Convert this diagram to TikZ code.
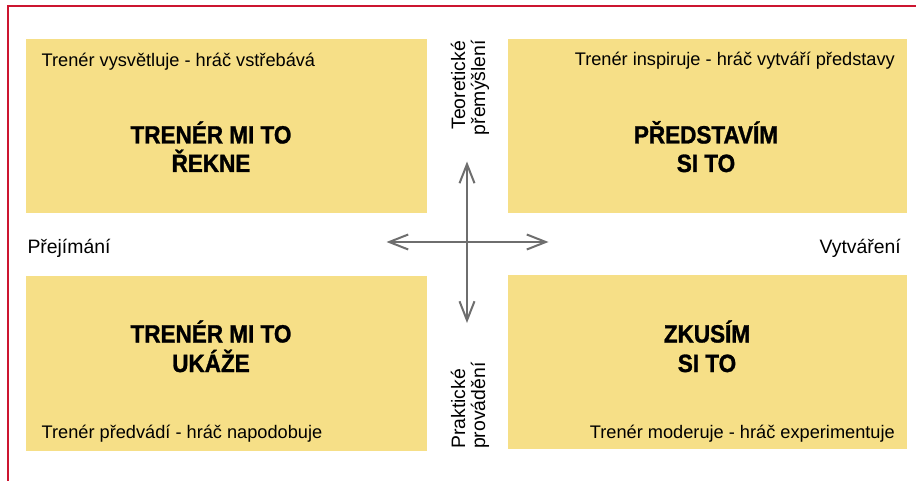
\documentclass[tikz,border=0pt]{standalone}
\usepackage{fontspec}
\setmainfont{Liberation Sans}
\newfontfamily\titlefont[FakeStretch=0.9,FakeBold=1.2]{Liberation Sans Bold}
\usetikzlibrary{arrows.meta}
\definecolor{boxyellow}{HTML}{F6DF87}
\definecolor{framered}{HTML}{CC1530}
\definecolor{arrowgray}{HTML}{6E6E6E}
\tikzset{
  quadbox/.style={fill=boxyellow, draw=none, inner sep=0pt, anchor=north west},
  smalltext/.style={inner sep=0pt, font=\fontsize{18.2pt}{20pt}\selectfont},
  titletext/.style={inner sep=0pt, anchor=base, font=\titlefont\fontsize{25pt}{29pt}\selectfont},
  axislabel/.style={inner sep=0pt, font=\fontsize{19.4pt}{21pt}\selectfont},
  axisarrow/.style={draw=arrowgray, line width=2pt, -{Straight Barb[length=19pt,width=15pt,line width=2pt]}},
}
\begin{document}
\begin{tikzpicture}[x=1pt,y=-1pt]
\useasboundingbox (0,0) rectangle (916,481);
% frame
\coordinate (fr1) at (8,481);
\coordinate (fr2) at (8,6);
\coordinate (fr3) at (916,6);
\draw[framered, line width=2.5pt] (fr1) -- (fr2) -- (fr3);
% boxes
\node[quadbox, minimum width=401pt, minimum height=174pt] (tl) at (26,39) {};
\node[quadbox, minimum width=399pt, minimum height=174pt] (tr) at (508,39) {};
\node[quadbox, minimum width=401pt, minimum height=175pt] (bl) at (26,276) {};
\node[quadbox, minimum width=399pt, minimum height=174pt] (br) at (508,275) {};
% small texts
\node[smalltext, anchor=base west] (tls) at (41.5,66.5) {Trenér vysvětluje - hráč vstřebává};
\node[smalltext, anchor=base east] (trs) at (895,65.5) {Trenér inspiruje - hráč vytváří představy};
\node[smalltext, anchor=base west] (bls) at (41.5,438.5) {Trenér předvádí - hráč napodobuje};
\node[smalltext, anchor=base east] (brs) at (895,438.5) {Trenér moderuje - hráč experimentuje};
% titles
\node[titletext] (tlt1) at (211,143.5) {TRENÉR MI TO};
\node[titletext] (tlt2) at (211,172) {ŘEKNE};
\node[titletext] (trt1) at (706,143.5) {PŘEDSTAVÍM};
\node[titletext] (trt2) at (706,172) {SI TO};
\node[titletext] (blt1) at (211,342.5) {TRENÉR MI TO};
\node[titletext] (blt2) at (211,372) {UKÁŽE};
\node[titletext] (brt1) at (707,342.5) {ZKUSÍM};
\node[titletext] (brt2) at (707,372) {SI TO};
% axis labels
\node[axislabel, rotate=90, anchor=base east] (th1) at (465,41) {Teoretické};
\node[axislabel, rotate=90, anchor=base east] (th2) at (485,40) {přemýšlení};
\node[axislabel, rotate=90, anchor=base west] (pr1) at (465,449) {Praktické};
\node[axislabel, rotate=90, anchor=base west] (pr2) at (485,449) {provádění};
\node[axislabel, anchor=base west] (prej) at (27.3,253.3) {Přejímání};
\node[axislabel, anchor=base east] (vytv) at (901,253.3) {Vytváření};
% arrows
\coordinate (c) at (467,242);
\coordinate (an) at (467,161.5);
\coordinate (as) at (467,323);
\coordinate (aw) at (386.5,242);
\coordinate (ae) at (548.5,242);
\draw[axisarrow] (c) -- (an);
\draw[axisarrow] (c) -- (as);
\draw[axisarrow] (c) -- (aw);
\draw[axisarrow] (c) -- (ae);
\end{tikzpicture}
\end{document}
